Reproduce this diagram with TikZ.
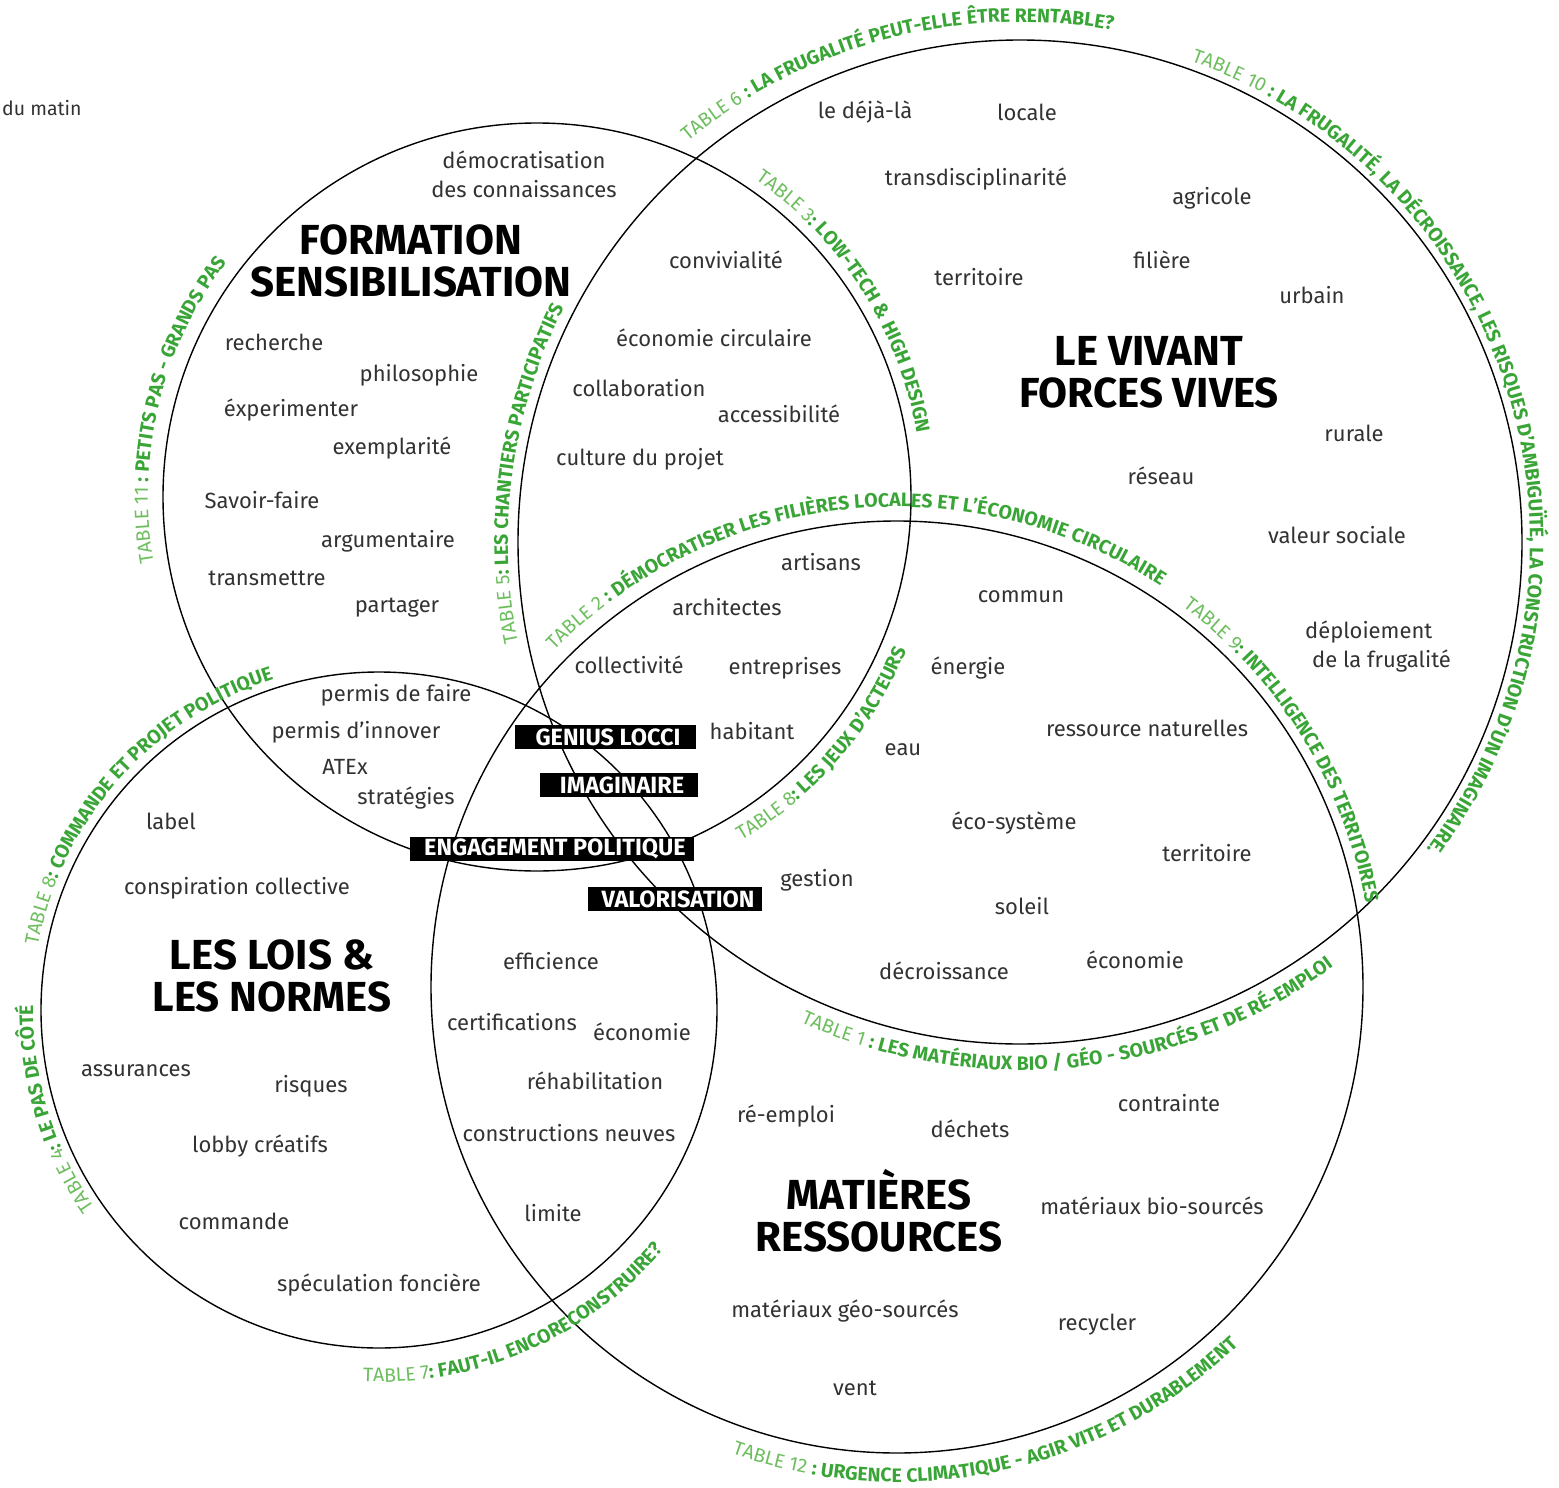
\documentclass[tikz,border=0pt]{standalone}
\usepackage{fontspec}
\setmainfont{Fira Sans}
\newfontfamily\capfont{Fira Sans}
\usetikzlibrary{decorations.text,calc}
\definecolor{txt}{RGB}{50,50,50}
\definecolor{tlight}{RGB}{110,190,95}
\definecolor{tgreen}{RGB}{58,165,55}
\newcommand\tablight{\capfont\fontsize{19.5}{19.5}\selectfont\color{tlight}}
\newcommand\tabbold{\capfont\bfseries\fontsize{19.5}{19.5}\selectfont\color{tgreen}}
% curved caption: centre, radius, start angle, end angle, text
\newcommand\arclabel[5]{%
  \path[decorate, decoration={text along path, text align=center, text={#5}}]
    ($(#1)+(#3:#2)$) arc[start angle=#3, end angle=#4, radius=#2];}
\begin{document}
\begin{tikzpicture}[x=1pt,y=-1pt,
  word/.style={font=\fontsize{22}{29}\selectfont, text=txt, inner sep=0pt, align=center},
  heading/.style={font=\bfseries\fontsize{42}{42}\selectfont, text=black, inner sep=0pt, align=center},
  blackbox/.style={fill=black, text=white, font=\bfseries\fontsize{23.5}{23.5}\selectfont, minimum height=24, inner sep=0pt},
  ring/.style={draw=black, line width=1.4pt}]
\useasboundingbox (0,0) rectangle (1559,1488);

% circle centres
\coordinate (cA) at (537,497);
\coordinate (cB) at (1020,542);
\coordinate (cC) at (379,1010);
\coordinate (cD) at (897,987);

\draw[ring] (cA) circle[radius=374];
\draw[ring] (cB) circle[radius=502];
\draw[ring] (cC) circle[radius=338];
\draw[ring] (cD) circle[radius=466];

% curved table captions
\arclabel{cB}{520}{180.3}{330.3}{|\tablight|TABLE 6 |\tabbold|: LA FRUGALITÉ PEUT-ELLE ÊTRE RENTABLE?}
\arclabel{cB}{510}{268.3}{418.3}{|\tablight|TABLE 10 |\tabbold|: LA FRUGALITÉ, LA DÉCROISSANCE, LES RISQUES D’AMBIGUÏTÉ, LA CONSTRUCTION D’UN IMAGINAIRE.}
\arclabel{cA}{385}{252.5}{402.5}{|\tablight|TABLE 3|\tabbold|: LOW-TECH {\&} HIGH DESIGN}
\arclabel{cB}{512}{113}{263}{|\tablight|TABLE 5|\tabbold|: LES CHANTIERS PARTICIPATIFS}
\arclabel{cD}{480}{188.9}{338.9}{|\tablight|TABLE 2 |\tabbold|: DÉMOCRATISER LES FILIÈRES LOCALES ET L’ÉCONOMIE CIRCULAIRE}
\arclabel{cD}{476}{253.4}{403.4}{|\tablight|TABLE 9|\tabbold|: INTELLIGENCE DES TERRITOIRES}
\arclabel{cA}{400}{115.9}{-34.1}{|\tablight|TABLE 8|\tabbold|: LES JEUX D’ACTEURS}
\arclabel{cA}{389}{118.7}{268.7}{|\tablight|TABLE 11 |\tabbold|: PETITS PAS - GRANDS PAS}
\arclabel{cC}{347}{146.5}{296.5}{|\tablight|TABLE 8|\tabbold|: COMMANDE ET PROJET POLITIQUE}
\arclabel{cC}{346}{88}{238}{|\tablight|TABLE 4|\tabbold|: LE PAS DE CÔTÉ}
\arclabel{cC}{372}{141.25}{-8.75}{|\tablight|TABLE 7|\tabbold|: FAUT-IL ENCORECONSTRUIRE?}
\arclabel{cD}{495}{152.9}{2.9}{|\tablight|TABLE 12 |\tabbold|: URGENCE CLIMATIQUE - AGIR VITE ET DURABLEMENT}
\arclabel{cB}{528}{159}{9}{|\tablight|TABLE 1 |\tabbold|: LES MATÉRIAUX BIO / GÉO - SOURCÉS ET DE RÉ-EMPLOI}

% margin note
\node[word, font=\fontsize{19.5}{24}\selectfont, anchor=west] (matin) at (2,108) {du matin};

% formation / sensibilisation
\node[word] (democ) at (524,174) {démocratisation\\des connaissances};
\node[heading] (hA) at (411,261) {FORMATION\\SENSIBILISATION};
\node[word] (a1) at (274,342) {recherche};
\node[word] (a2) at (419,375) {philosophie};
\node[word] (a3) at (291,410) {éxperimenter};
\node[word] (a4) at (392,448) {exemplarité};
\node[word] (a5) at (262,500) {Savoir-faire};
\node[word] (a6) at (388,541) {argumentaire};
\node[word] (a7) at (267,578) {transmettre};
\node[word] (a8) at (397,608) {partager};

% formation and vivant
\node[word] (ab1) at (726,260) {convivialité};
\node[word] (ab2) at (714,338) {économie circulaire};
\node[word] (ab3) at (639,388) {collaboration};
\node[word] (ab4) at (779,414) {accessibilité};
\node[word] (ab5) at (640,459) {culture du projet};

% le vivant / forces vives
\node[word] (b1) at (865,112) {le déjà-là};
\node[word] (b2) at (1027,112) {locale};
\node[word] (b3) at (976,179) {transdisciplinarité};
\node[word] (b4) at (1212,198) {agricole};
\node[word] (b5) at (979,277) {territoire};
\node[word] (b6) at (1162,260) {filière};
\node[word] (b7) at (1312,295) {urbain};
\node[heading] (hB) at (1149,372) {LE VIVANT\\FORCES VIVES};
\node[word] (b8) at (1354,433) {rurale};
\node[word] (b9) at (1161,476) {réseau};
\node[word] (b10) at (1337,535) {valeur sociale};
\node[word, align=left] (b11) at (1378,647) {déploiement\\\hspace{7pt}de la frugalité};

% shared actors
\node[word] (d1) at (821,562) {artisans};
\node[word] (d2) at (727,607) {architectes};
\node[word] (d3) at (629,665) {collectivité};
\node[word] (d4) at (785,668) {entreprises};
\node[word] (d5) at (752,731) {habitant};
\node[word] (d6) at (1021,597) {commun};
\node[word] (d7) at (968,668) {énergie};
\node[word] (d8) at (1147,728) {ressource naturelles};
\node[word] (d9) at (903,750) {eau};
\node[word] (d10) at (1014,823) {éco-système};
\node[word] (d11) at (1207,853) {territoire};
\node[word] (d12) at (817,880) {gestion};
\node[word] (d13) at (1022,906) {soleil};
\node[word] (d14) at (944,971) {décroissance};
\node[word] (d15) at (1135,960) {économie};

% formation and lois
\node[word] (ac1) at (396,695) {permis de faire};
\node[word] (ac2) at (356,732) {permis d’innover};
\node[word] (ac3) at (345,767) {ATEx};
\node[word] (ac4) at (406,798) {stratégies};

% les lois & les normes
\node[word] (c1) at (171,821) {label};
\node[word] (c2) at (237,888) {conspiration collective};
\node[heading] (hC) at (272,976) {LES LOIS \&\\LES NORMES};
\node[word] (c3) at (136,1071) {assurances};
\node[word] (c4) at (311,1086) {risques};
\node[word] (c5) at (260,1146) {lobby créatifs};
\node[word] (c6) at (234,1221) {commande};
\node[word] (c7) at (379,1285) {spéculation foncière};

% lois and matieres
\node[word] (cd1) at (551,961) {efficience};
\node[word] (cd2) at (512,1022) {certifications};
\node[word] (cd3) at (642,1032) {économie};
\node[word] (cd4) at (595,1081) {réhabilitation};
\node[word] (cd5) at (569,1133) {constructions neuves};
\node[word] (cd6) at (553,1213) {limite};

% matieres / ressources
\node[word] (m1) at (786,1116) {ré-emploi};
\node[word] (m2) at (970,1129) {déchets};
\node[word] (m3) at (1169,1103) {contrainte};
\node[heading] (hD) at (879,1211) {MATIÈRES\\RESSOURCES};
\node[word] (m4) at (1152,1206) {matériaux bio-sourcés};
\node[word] (m5) at (845,1311) {matériaux géo-sourcés};
\node[word] (m6) at (1097,1325) {recycler};
\node[word] (m7) at (855,1388) {vent};

% central keywords
\node[blackbox, minimum width=181] (k1) at (605,737) {\hspace{6pt}GENIUS LOCCI};
\node[blackbox, minimum width=158] (k2) at (619,785) {\hspace{6pt}IMAGINAIRE};
\node[blackbox, minimum width=284] (k3) at (552,849) {\hspace{6pt}ENGAGEMENT POLITIQUE};
\node[blackbox, minimum width=174] (k4) at (675,899) {\hspace{6pt}VALORISATION};
\end{tikzpicture}
\end{document}
